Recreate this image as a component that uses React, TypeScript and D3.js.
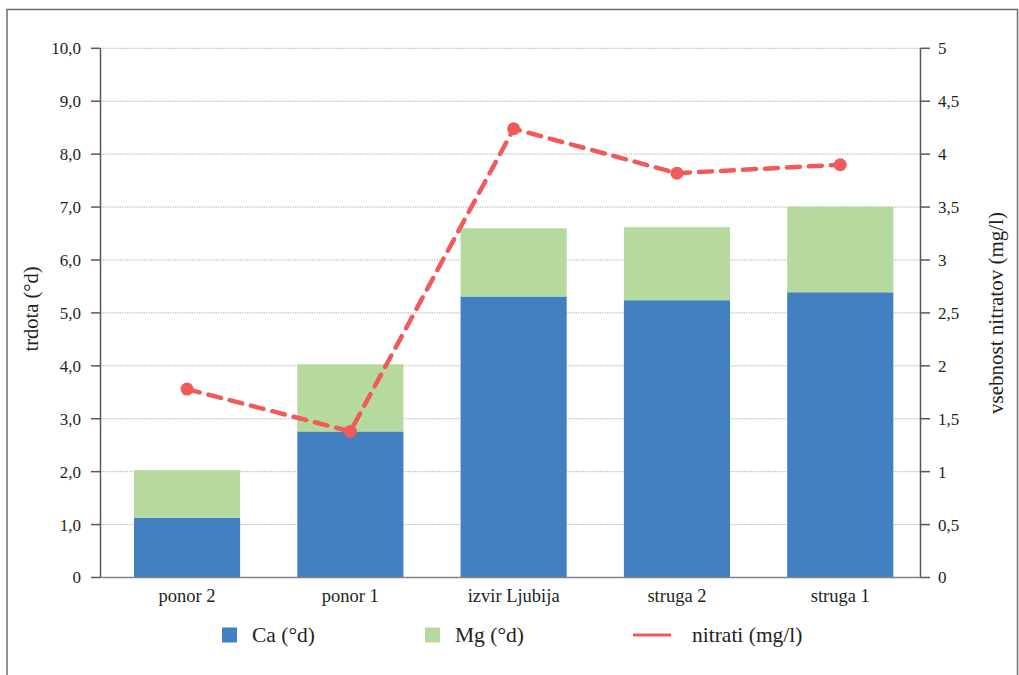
import React from "react";
import * as d3 from "d3";

const categories = ["ponor 2", "ponor 1", "izvir Ljubija", "struga 2", "struga 1"];
const caValues = [1.13, 2.76, 5.31, 5.24, 5.39];
const mgValues = [0.9, 1.27, 1.29, 1.38, 1.62];
const nitrateValues = [1.78, 1.38, 4.24, 3.82, 3.9];
const leftTicks = [0, 1, 2, 3, 4, 5, 6, 7, 8, 9, 10];
const rightTicks = [0, 0.5, 1, 1.5, 2, 2.5, 3, 3.5, 4, 4.5, 5];
const legendItems = ["Ca (°d)", "Mg (°d)", "nitrati (mg/l)"];

const W = 1019;
const H = 675;
const plotLeft = 100.5;
const plotRight = 920.5;
const plotTop = 48.3;
const plotBottom = 577.5;

const BLUE = "#4380c2";
const GREEN = "#b6da9d";
const RED = "#f05a5a";
const FONT = "Liberation Serif, Times New Roman, DejaVu Serif, serif";
const TEXT = "#231f20";

const fmtLeft = (v: number) => (v === 0 ? "0" : d3.format(".1f")(v).replace(".", ","));
const fmtRight = (v: number) => String(v).replace(".", ",");

export default function App() {
  const x = d3.scaleBand<string>().domain(categories).range([105.4, 921.9]).paddingInner(0.35).paddingOuter(0.175);
  const yL = d3.scaleLinear().domain([0, 10]).range([plotBottom, plotTop]);
  const yR = d3.scaleLinear().domain([0, 5]).range([plotBottom, plotTop]);
  const cx = (c: string) => (x(c) as number) + x.bandwidth() / 2;

  const stacked = categories.map((c, i) => ({ c, ca: caValues[i], mg: mgValues[i] }));
  const line = d3
    .line<number>()
    .x((_, i) => cx(categories[i]))
    .y((d) => yR(d));

  const ts = { fontFamily: FONT };

  return (
    <svg width={W} height={H} style={{ position: "absolute", left: 0, top: 0, fontFamily: FONT }}>
      <rect x={0} y={0} width={W} height={H} fill="#fff" />
      <rect x={7} y={9.5} width={1010.5} height={H} fill="none" stroke="#6d6e70" strokeWidth={1.5} />

      {/* grid */}
      {leftTicks.filter((t) => t > 0).map((t) => (
        <line key={"g" + t} x1={plotLeft} x2={plotRight} y1={yL(t)} y2={yL(t)} stroke="#a7a9ac" strokeWidth={1} strokeDasharray="1.2,1.2" />
      ))}

      {/* bars */}
      {stacked.map((d) => (
        <g key={d.c}>
          <rect x={x(d.c)} width={x.bandwidth()} y={yL(d.ca)} height={yL(0) - yL(d.ca)} fill={BLUE} />
          <rect x={x(d.c)} width={x.bandwidth()} y={yL(d.ca + d.mg)} height={yL(d.ca) - yL(d.ca + d.mg)} fill={GREEN} />
        </g>
      ))}

      {/* axes */}
      <line x1={plotLeft} x2={plotLeft} y1={plotTop} y2={plotBottom} stroke="#58595b" strokeWidth={1.5} />
      <line x1={plotRight} x2={plotRight} y1={plotTop} y2={plotBottom} stroke="#58595b" strokeWidth={1.5} />
      <line x1={plotLeft} x2={plotRight} y1={plotBottom} y2={plotBottom} stroke="#808285" strokeWidth={1.5} />

      {leftTicks.map((t) => (
        <g key={"lt" + t}>
          <line x1={91} x2={plotLeft} y1={yL(t)} y2={yL(t)} stroke="#58595b" strokeWidth={1.5} />
          <text style={ts} x={81} y={yL(t)} dy="0.35em" textAnchor="end" fontSize={17} fill={TEXT}>
            {fmtLeft(t)}
          </text>
        </g>
      ))}
      {rightTicks.map((t) => (
        <g key={"rt" + t}>
          <line x1={plotRight} x2={930} y1={yR(t)} y2={yR(t)} stroke="#58595b" strokeWidth={1.5} />
          <text style={ts} x={938} y={yR(t)} dy="0.35em" textAnchor="start" fontSize={17} fill={TEXT}>
            {fmtRight(t)}
          </text>
        </g>
      ))}

      {categories.map((c) => (
        <text style={ts} key={"c" + c} x={cx(c)} y={602} textAnchor="middle" fontSize={18.5} fill={TEXT}>
          {c}
        </text>
      ))}

      <text style={ts} transform="translate(38,309) rotate(-90)" textAnchor="middle" fontSize={20.5} fill={TEXT}>
        trdota (°d)
      </text>
      <text style={ts} transform="translate(1003,313) rotate(-90)" textAnchor="middle" fontSize={21} fill={TEXT}>
        vsebnost nitratov (mg/l)
      </text>

      {/* nitrate line */}
      <path d={line(nitrateValues) || ""} fill="none" stroke={RED} strokeWidth={4.5} strokeDasharray="13,9" strokeLinecap="round" />
      {nitrateValues.map((v, i) => (
        <circle key={"p" + i} cx={cx(categories[i])} cy={yR(v)} r={6.5} fill={RED} />
      ))}

      {/* legend */}
      <rect x={222} y={627.5} width={15} height={15} fill={BLUE} />
      <text style={ts} x={252} y={642} fontSize={21.5} fill={TEXT}>{legendItems[0]}</text>
      <rect x={425} y={627.5} width={15} height={15} fill={GREEN} />
      <text style={ts} x={455} y={642} fontSize={21.5} fill={TEXT}>{legendItems[1]}</text>
      <line x1={633} x2={671} y1={635} y2={635} stroke={RED} strokeWidth={3} />
      <text style={ts} x={692} y={642} fontSize={21.5} fill={TEXT}>{legendItems[2]}</text>
    </svg>
  );
}
